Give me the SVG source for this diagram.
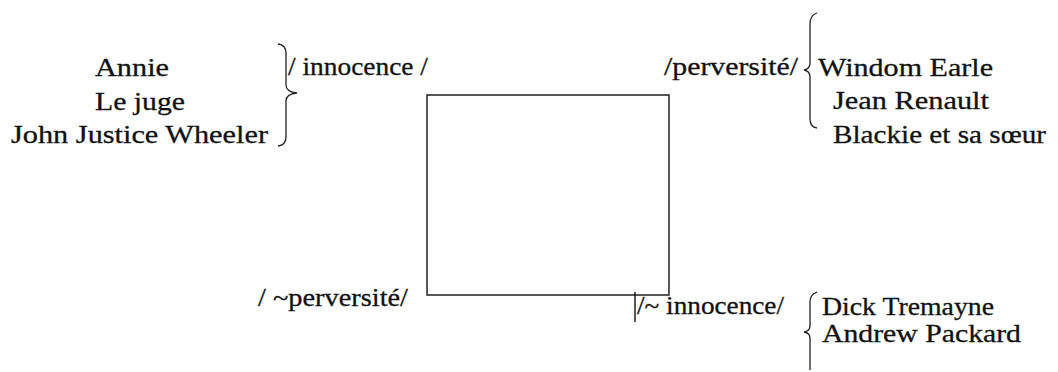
<svg xmlns="http://www.w3.org/2000/svg" width="1058" height="372" viewBox="0 0 1058 372">
<style>
text{font-family:"Liberation Serif","Times New Roman",serif;font-size:26px;fill:#111;stroke:#111;stroke-width:0.3;}
.br{fill:none;stroke:#222;stroke-width:1.3;}
.ln{fill:none;stroke:#111;stroke-width:1.4;}
</style>
<rect width="1058" height="372" fill="#fff"/>
<g id="square"><rect class="ln" x="427" y="95" width="242" height="200"/></g>
<g id="group-innocence">
<text x="95" y="76" textLength="74" lengthAdjust="spacingAndGlyphs">Annie</text>
<text x="95" y="110" textLength="90" lengthAdjust="spacingAndGlyphs">Le juge</text>
<text x="11" y="143" textLength="257" lengthAdjust="spacingAndGlyphs">John Justice Wheeler</text>
</g>
<g id="label-innocence"><text x="288" y="75" textLength="140" lengthAdjust="spacingAndGlyphs">/ innocence /</text></g>
<g id="label-perversite"><text x="664" y="75" textLength="134" lengthAdjust="spacingAndGlyphs">/perversité/</text></g>
<g id="group-perversite">
<text x="818" y="76" textLength="175" lengthAdjust="spacingAndGlyphs">Windom Earle</text>
<text x="833" y="109" textLength="156" lengthAdjust="spacingAndGlyphs">Jean Renault</text>
<text x="833" y="143" textLength="213" lengthAdjust="spacingAndGlyphs">Blackie et sa sœur</text>
</g>
<g id="label-non-perversite"><text x="258" y="306" textLength="150" lengthAdjust="spacingAndGlyphs">/ ~perversité/</text></g>
<g id="label-non-innocence"><text x="637" y="314" textLength="147" lengthAdjust="spacingAndGlyphs">/~ innocence/</text></g>
<g id="group-non-innocence">
<text x="822" y="315" textLength="172" lengthAdjust="spacingAndGlyphs">Dick Tremayne</text>
<text x="822" y="342" textLength="199" lengthAdjust="spacingAndGlyphs">Andrew Packard</text>
</g>
<g id="connectors">
<path class="br" d="M278,44 Q286,45 286,53 L286,85 Q286,92 297,93 Q286,94 286,101 L286,137 Q286,145 278,146"/>
<path class="br" d="M817,13 Q810,15 810,24 L810,63 Q810,69 804,70 Q810,71 810,77 L810,119 Q810,127 817,128"/>
<path class="br" d="M817,292 Q810,294 810,302 L810,326 Q810,331 804,332 Q810,333 810,338 L810,370"/>
<line class="ln" x1="635" y1="292" x2="635" y2="322"/>
</g>
</svg>
